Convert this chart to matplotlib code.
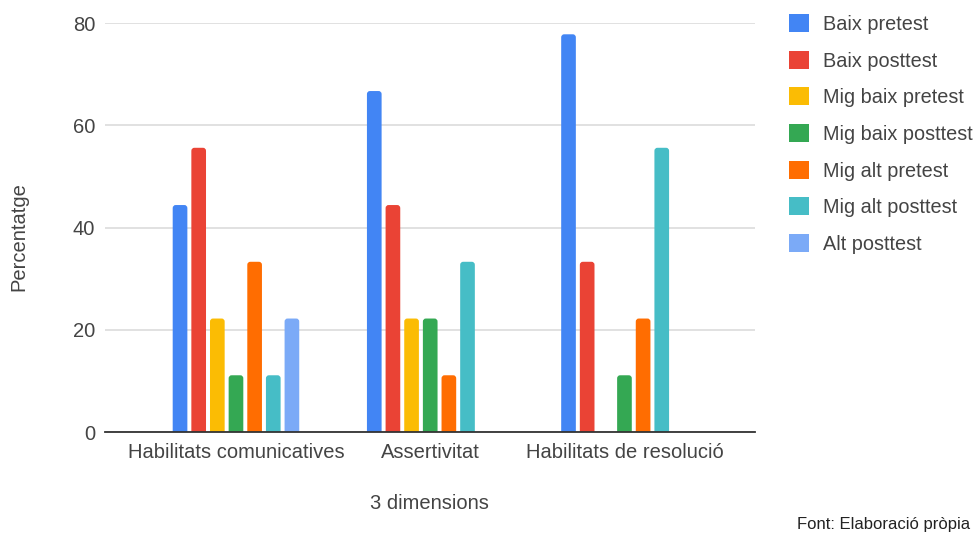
import matplotlib

matplotlib.use("Agg")
import matplotlib.pyplot as plt
import numpy as np
from matplotlib.patches import FancyBboxPatch, Patch

plt.rcParams["font.family"] = ["Liberation Sans", "DejaVu Sans"]

categories = ["Habilitats comunicatives", "Assertivitat", "Habilitats de resolució"]
series_names = [
    "Baix pretest",
    "Baix posttest",
    "Mig baix pretest",
    "Mig baix posttest",
    "Mig alt pretest",
    "Mig alt posttest",
    "Alt posttest",
]
baix_pretest = [44.4, 66.7, 77.8]
baix_posttest = [55.6, 44.4, 33.3]
mig_baix_pretest = [22.2, 22.2, 0.0]
mig_baix_posttest = [11.1, 22.2, 11.1]
mig_alt_pretest = [33.3, 11.1, 22.2]
mig_alt_posttest = [11.1, 33.3, 55.6]
alt_posttest = [22.2, 0.0, 0.0]

series = [baix_pretest, baix_posttest, mig_baix_pretest, mig_baix_posttest,
          mig_alt_pretest, mig_alt_posttest, alt_posttest]
colors = ["#4285F4", "#EA4335", "#FBBC04", "#34A853", "#FF6D01", "#46BDC6", "#7BAAF7"]

FS = 14.5
TXT = "#444444"

fig = plt.figure(figsize=(9.8, 5.36), dpi=100)
ax = fig.add_axes([0.107, 0.194, 0.663, 0.763])
ax.set_xlim(-0.675, 2.67)
ax.set_ylim(0, 80)

x = np.arange(len(categories))
pitch = 0.096
width = 0.0755
# corner radius: ~3 px, converted to data units on each axis
r_x = 0.0154
r_y = 0.6
for i, (vals, col) in enumerate(zip(series, colors)):
    offs = (i - 3) * pitch
    for xi, v in zip(x + offs, vals):
        if v <= 0:
            continue
        # start below the baseline so only the top corners show rounded
        ax.add_patch(FancyBboxPatch(
            (xi - width / 2, -r_y), width, v + r_y,
            boxstyle=f"round,pad=0,rounding_size={r_x}",
            mutation_aspect=r_y / r_x, facecolor=col, edgecolor="none", zorder=3,
        ))

ax.set_yticks([0, 20, 40, 60, 80])
ax.set_xticks(x)
ax.set_xticklabels(categories)
ax.yaxis.grid(True, color="#d9d9d9", linewidth=1.1, zorder=0)
for s in ["top", "right", "left"]:
    ax.spines[s].set_visible(False)
ax.spines["bottom"].set_color("#333333")
ax.spines["bottom"].set_linewidth(1.3)
ax.spines["bottom"].set_zorder(4)
ax.tick_params(axis="both", length=0, labelsize=FS, labelcolor=TXT)
ax.tick_params(axis="x", pad=8)
ax.tick_params(axis="y", pad=7)

ax.set_xlabel("3 dimensions", fontsize=FS, color=TXT, labelpad=23)
fig.text(0.019, 0.558, "Percentatge", rotation=90, fontsize=FS, color=TXT,
         ha="center", va="center")

handles = [Patch(facecolor=c, edgecolor="none") for c in colors]
fig.legend(handles, series_names, loc="upper left", bbox_to_anchor=(0.791, 0.9994),
           frameon=False, fontsize=14.3, handlelength=1.01, handleheight=1.01,
           labelspacing=0.85, handletextpad=0.72, labelcolor=TXT,
           borderaxespad=0.3)

fig.text(0.99, 0.007, "Font: Elaboració pròpia", fontsize=12, color="#222222",
         ha="right", va="bottom")

fig.savefig("out.png", dpi=100)
